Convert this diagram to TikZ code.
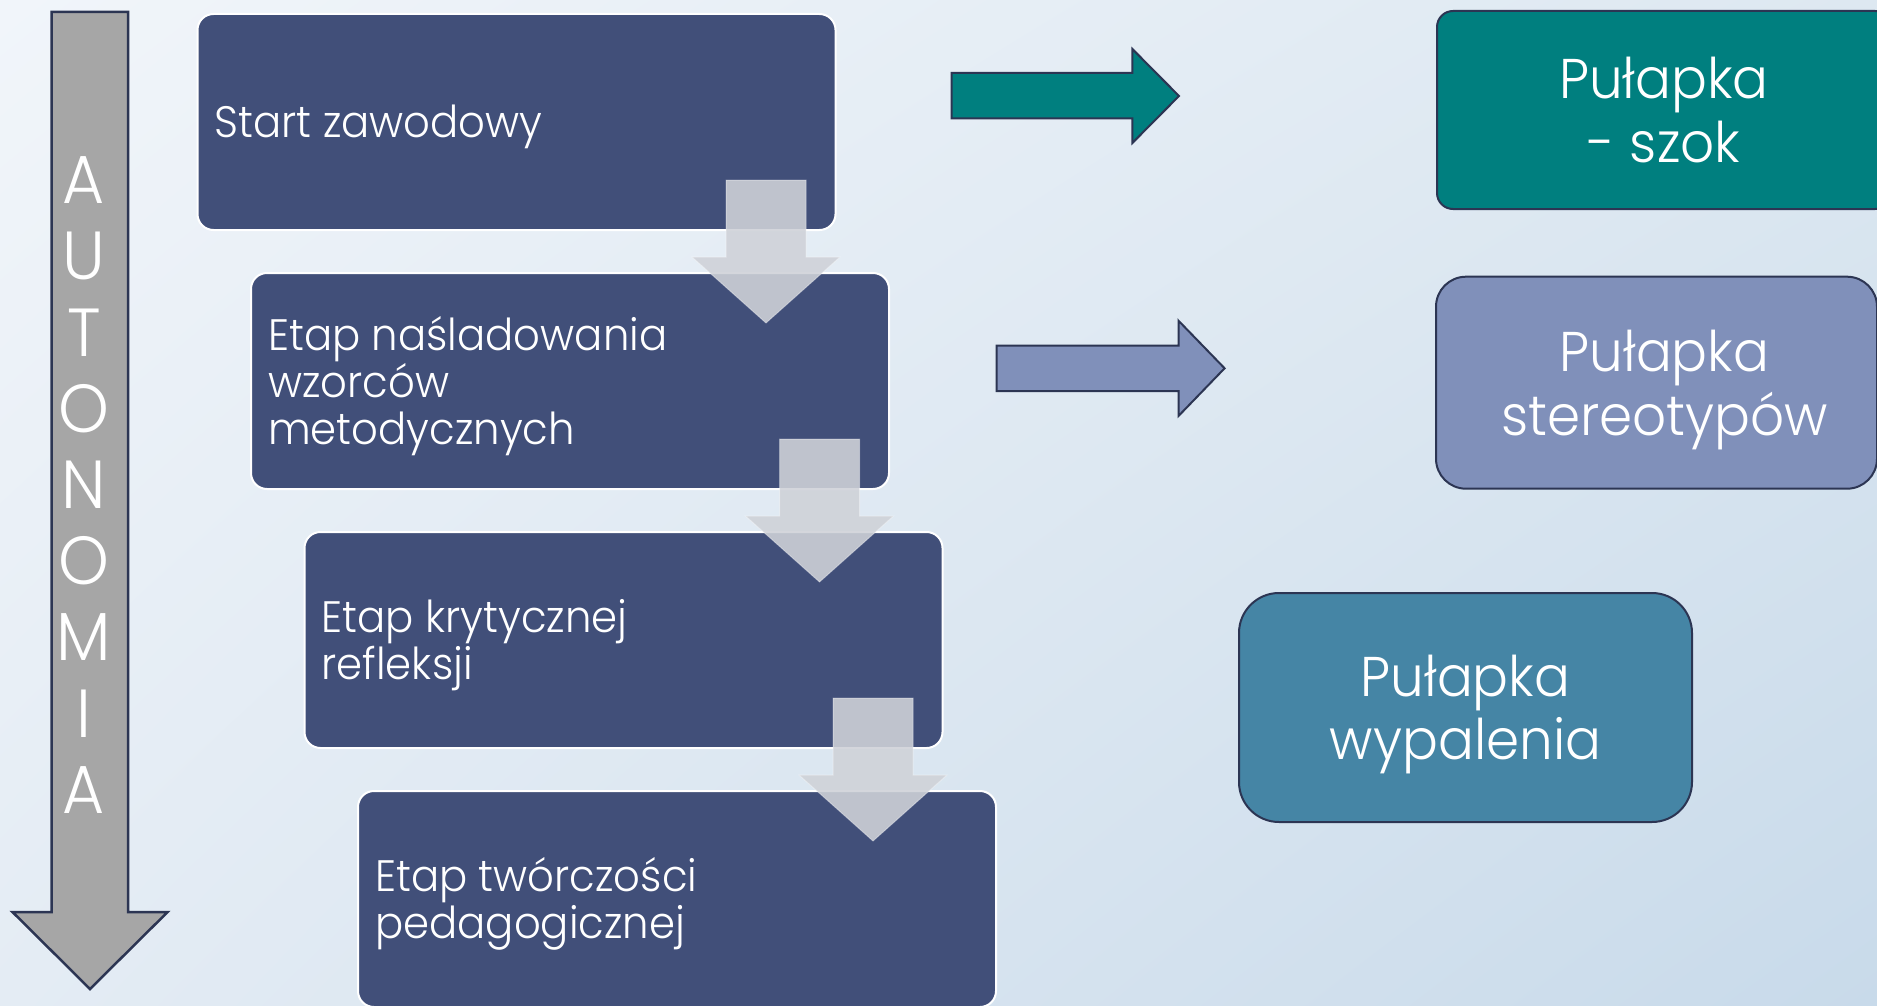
\documentclass[tikz,border=0pt]{standalone}
\usepackage{fontspec}
\usetikzlibrary{shadings}
\IfFontExistsTF{Poppins Light}{\setmainfont{Poppins Light}[FakeStretch=0.95]}{\setmainfont{Poppins}[FakeStretch=0.95]}
\definecolor{bgUL}{HTML}{F1F5FA}
\definecolor{bgUR}{HTML}{DDE8F1}
\definecolor{bgLL}{HTML}{E4ECF4}
\definecolor{bgLR}{HTML}{C8DAEA}
\definecolor{navy}{HTML}{414F79}
\definecolor{edge}{HTML}{2C3553}
\definecolor{tealc}{HTML}{007F7F}
\definecolor{purplec}{HTML}{8090BA}
\definecolor{steelc}{HTML}{4585A5}
\definecolor{grayarr}{HTML}{A6A6A6}
\definecolor{lightarr}{HTML}{CFD2D8}
\tikzset{
  stagebox/.style={draw=white, line width=2pt, fill=navy, rounded corners=16pt,
    minimum width=638pt, minimum height=216pt, inner sep=0pt},
  stagetext/.style={anchor=west, align=left, text=white, inner sep=0pt,
    font=\fontsize{44}{46.7}\selectfont},
  trapbox/.style={draw=edge, line width=2pt, text=white, align=center,
    inner sep=0pt, text depth=0pt, font=\fontsize{56}{63.5}\selectfont},
  blockarrow/.style={draw=edge, line width=2pt, line join=miter},
  pics/downarr/.style={code={
    \filldraw[fill=lightarr, fill opacity=0.89, draw=white, draw opacity=0.35, line width=1pt]
      (-40,0) -- (40,0) -- (40,77) -- (74,77) -- (0,143) -- (-74,77) -- (-40,77) -- cycle;}}
}
\begin{document}
\begin{tikzpicture}[x=1pt,y=-1pt]
\useasboundingbox (0,0) rectangle (1877,1006);
\clip (0,0) rectangle (1877,1006);
\shade[upper left=bgUL, upper right=bgUR, lower left=bgLL, lower right=bgLR]
  (0,0) rectangle (1877,1006);

% big autonomy arrow
\draw[blockarrow, fill=grayarr, line width=2.5pt]
  (51.5,12) -- (128,12) -- (128,912) -- (167.6,912) -- (90,989) -- (12.5,912) -- (51.5,912) -- cycle;
\node[text=white, align=center, inner sep=0pt, font=\fontsize{68}{76.2}\selectfont] (auto) at (84,485)
  {A\\U\\T\\O\\N\\O\\M\\I\\A};

% stages
\node[stagebox] (s1) at (516.5,122) {};
\node[stagebox] (s2) at (570,381) {};
\node[stagebox] (s3) at (623.5,640) {};
\node[stagebox] (s4) at (677,899) {};
\node[stagetext] (s1t) at ([xshift=18pt,yshift=-5pt]s1.west) {Start zawodowy};
\node[stagetext] (s2t) at ([xshift=18pt,yshift=-5pt]s2.west) {Etap naśladowania\\wzorców\\metodycznych};
\node[stagetext] (s3t) at ([xshift=18pt,yshift=-5pt]s3.west) {Etap krytycznej\\refleksji};
\node[stagetext] (s4t) at ([xshift=18pt,yshift=-5pt]s4.west) {Etap twórczości\\pedagogicznej};

% down arrows between stages
\pic at (766,180) {downarr};
\pic at (819.5,439) {downarr};
\pic at (873,698) {downarr};

% right arrows
\draw[blockarrow, fill=tealc]
  (951.6,73) -- (1132.4,73) -- (1132.4,49) -- (1179,96) -- (1132.4,143) -- (1132.4,118.5) -- (951.6,118.5) -- cycle;
\draw[blockarrow, fill=purplec]
  (996.6,345.7) -- (1178.5,345.7) -- (1178.5,320.7) -- (1224.6,368.3) -- (1178.5,416) -- (1178.5,391) -- (996.6,391) -- cycle;

% traps
\node[trapbox, fill=tealc, rounded corners=16pt, minimum width=454pt, minimum height=198pt]
  (t1) at (1664,110) {Pułapka\\- szok};
\node[trapbox, fill=purplec, rounded corners=30pt, minimum width=441pt, minimum height=212pt]
  (t2) at (1656.5,382.7) {\hspace*{16pt}Pułapka\\\hspace*{16pt}stereotypów};
\node[trapbox, fill=steelc, rounded corners=40pt, minimum width=453pt, minimum height=229pt]
  (t3) at (1465.5,707.5) {Pułapka\\wypalenia};
\end{tikzpicture}
\end{document}
